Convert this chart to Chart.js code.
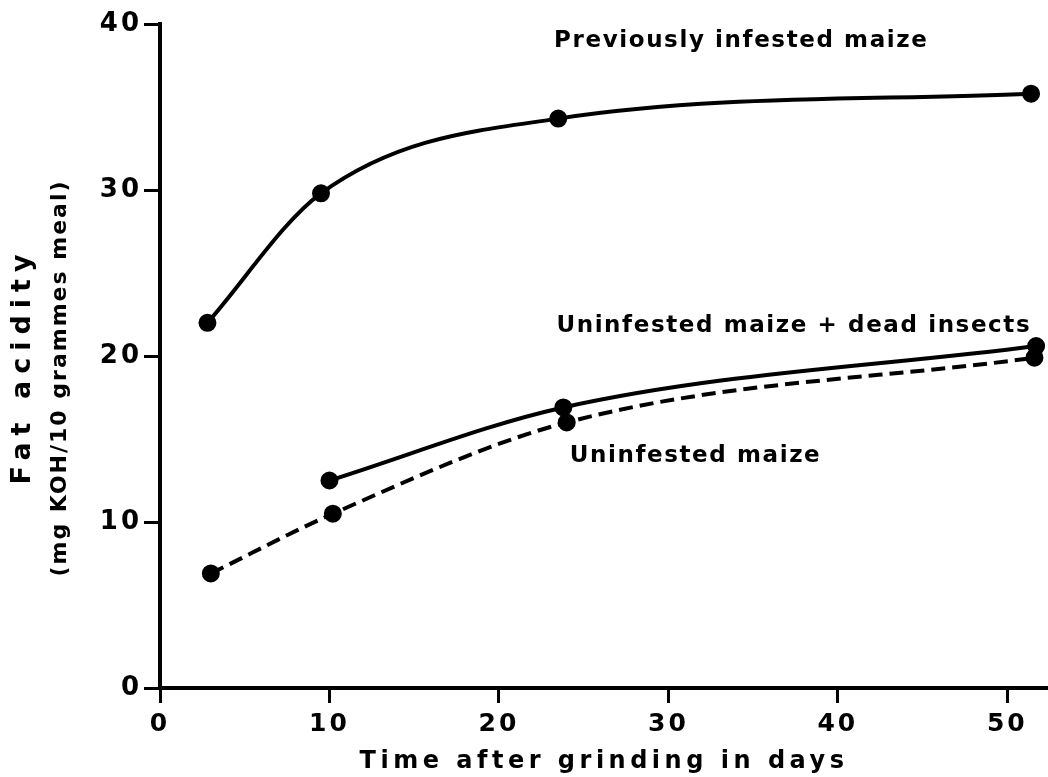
<!DOCTYPE html>
<html>
<head>
<meta charset="utf-8">
<script src="https://cdn.jsdelivr.net/npm/chart.js@4/dist/chart.umd.min.js"></script>
<style>
  html, body { margin: 0; padding: 0; background: #ffffff; }
  #wrap { width: 1048px; height: 777px; }
</style>
</head>
<body>
<div id="wrap"><canvas id="c" width="1048" height="777"></canvas></div>
<script>
// ---- data ----
const prevInfestedX = [2.8, 9.5, 23.5, 51.4];
const prevInfestedY = [22.0, 29.8, 34.3, 35.8];

const deadInsectsX = [10.0, 23.8, 51.7];
const deadInsectsY = [12.5, 16.9, 20.6];

const uninfestedX = [3.0, 10.2, 24.0, 51.6];
const uninfestedY = [6.9, 10.5, 16.0, 19.9];

const seriesNames = ['Previously infested maize', 'Uninfested maize + dead insects', 'Uninfested maize'];

const xTicks = [0, 10, 20, 30, 40, 50];
const yTicks = [0, 10, 20, 30, 40];

const xTitle = 'Time after grinding in days';
const yTitle = ['Fat acidity', '(mg KOH/10 grammes meal)'];

// label anchor points (data coordinates)
const labelX = [34.3, 37.4, 31.6];
const labelY = [39.0, 21.8, 14.0];

function pts(xs, ys) { return xs.map((x, i) => ({ x: x, y: ys[i] })); }

const FONT = '"DejaVu Sans", sans-serif';

function withSpacing(fn, sp) {
  return function () {
    const c = this.ctx;
    const old = c.letterSpacing;
    c.letterSpacing = sp;
    fn.call(this);
    c.letterSpacing = old;
  };
}

const labelPlugin = {
  id: 'seriesLabels',
  afterDatasetsDraw(chart) {
    const ctx = chart.ctx;
    const xs = chart.scales.x, ys = chart.scales.y;
    ctx.save();
    ctx.letterSpacing = '1.6px';
    ctx.fillStyle = '#000';
    ctx.font = 'bold 23px ' + FONT;
    ctx.textAlign = 'center';
    ctx.textBaseline = 'middle';
    seriesNames.forEach((n, i) => {
      ctx.fillText(n, xs.getPixelForValue(labelX[i]), ys.getPixelForValue(labelY[i]));
    });
    ctx.restore();
  }
};

const common = {
  borderColor: '#000',
  backgroundColor: '#000',
  pointBackgroundColor: '#000',
  pointBorderColor: '#000',
  borderWidth: 4,
  pointRadius: 7,
  pointHoverRadius: 7,
  cubicInterpolationMode: 'monotone',
  fill: false,
  clip: false
};

new Chart(document.getElementById('c'), {
  type: 'scatter',
  data: {
    datasets: [
      Object.assign({ label: seriesNames[0], data: pts(prevInfestedX, prevInfestedY), showLine: true }, common),
      Object.assign({ label: seriesNames[1], data: pts(deadInsectsX, deadInsectsY), showLine: true }, common),
      Object.assign({ label: seriesNames[2], data: pts(uninfestedX, uninfestedY), showLine: true, borderDash: [14, 7] }, common)
    ]
  },
  options: {
    responsive: false,
    animation: false,
    devicePixelRatio: 1,
    layout: { autoPadding: false, padding: { top: 24, right: 0, left: 0, bottom: 0 } },
    plugins: { legend: { display: false }, tooltip: { enabled: false } },
    scales: {
      x: {
        type: 'linear',
        min: 0, max: 52.4,
        afterFit(s) {
          s.height = 89;
          if (!s._patched) {
            s._patched = true;
            s.drawTitle = withSpacing(s.drawTitle, '4.5px');
            s.drawLabels = withSpacing(s.drawLabels, '3px');
          }
        },
        afterBuildTicks(s) { s.ticks = xTicks.map(v => ({ value: v })); },
        border: { display: true, color: '#000', width: 4 },
        grid: { drawOnChartArea: false, drawTicks: true, tickLength: 15, tickWidth: 3, tickColor: '#000' },
        ticks: { color: '#000', font: { family: FONT, size: 25, weight: 'bold' }, padding: 6, maxRotation: 0 },
        title: { display: true, text: xTitle, color: '#000', font: { family: FONT, size: 24, weight: 'bold' }, padding: { top: 0, bottom: 1 } }
      },
      y: {
        type: 'linear',
        min: 0, max: 40,
        afterFit(s) {
          s.width = 160;
          if (!s._patched) {
            s._patched = true;
            s.drawLabels = withSpacing(s.drawLabels, '3px');
            s.drawTitle = function () {
              const c = this.ctx;
              const mid = (this.top + this.bottom) / 2;
              c.save();
              c.fillStyle = '#000';
              c.textAlign = 'center';
              c.textBaseline = 'middle';
              c.translate(23, mid + 10);
              c.rotate(-Math.PI / 2);
              c.font = 'bold 27px ' + FONT;
              c.letterSpacing = '7px';
              c.fillText(yTitle[0], 0, 0);
              c.restore();
              c.save();
              c.fillStyle = '#000';
              c.textAlign = 'center';
              c.textBaseline = 'middle';
              c.translate(60, mid + 22);
              c.rotate(-Math.PI / 2);
              c.font = 'bold 22px ' + FONT;
              c.letterSpacing = '2px';
              c.fillText(yTitle[1], 0, 0);
              c.restore();
            };
          }
        },
        afterBuildTicks(s) { s.ticks = yTicks.map(v => ({ value: v })); },
        border: { display: true, color: '#000', width: 4 },
        grid: { drawOnChartArea: false, drawTicks: true, tickLength: 16, tickWidth: 3, tickColor: '#000' },
        ticks: { color: '#000', font: { family: FONT, size: 26, weight: 'bold' }, padding: 2 },
        title: { display: true, text: yTitle, color: '#000', font: { family: FONT, size: 22, weight: 'bold' }, padding: { top: 9, bottom: 0 } }
      }
    }
  },
  plugins: [labelPlugin]
});
</script>
</body>
</html>
